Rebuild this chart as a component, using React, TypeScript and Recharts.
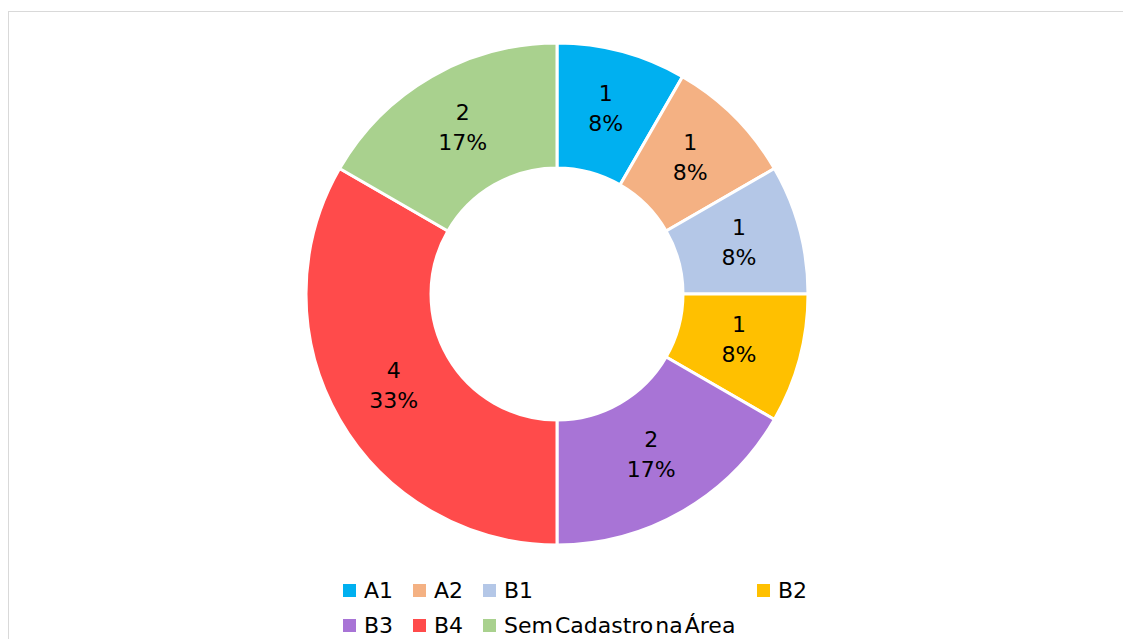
import { PieChart, Pie, Cell } from "recharts";

const CATEGORIES = ["A1", "A2", "B1", "B2", "B3", "B4", "Sem Cadastro na Área"];
const COUNTS = [1, 1, 1, 1, 2, 4, 2];
const COLORS = ["#00B0F0", "#F4B183", "#B4C7E7", "#FFC000", "#A874D6", "#FF4B4B", "#A9D18E"];

// legend grid order, as Excel lays it out
const LEGEND_ORDER = [0, 1, 2, 3, 4, 5, 6];

const RADIAN = Math.PI / 180;
const FONT = "'DejaVu Sans', sans-serif";

const data = CATEGORIES.map((name, i) => ({ name, value: COUNTS[i] }));

function renderLabel(props: any) {
  const { cx, cy, midAngle, innerRadius, outerRadius, value, percent } = props;
  const r = (innerRadius + outerRadius) / 2;
  const x = cx + r * Math.cos(-midAngle * RADIAN);
  const y = cy + r * Math.sin(-midAngle * RADIAN) - 3;
  return (
    <text x={x} y={y} textAnchor="middle" fill="#000" fontSize={22} fontFamily={FONT}>
      <tspan x={x} dy={-15} dominantBaseline="central">
        {value}
      </tspan>
      <tspan x={x} dy={30} dominantBaseline="central">
        {Math.round(percent * 100)}%
      </tspan>
    </text>
  );
}

export default function App() {
  return (
    <div style={{ paddingTop: 3 }}>
      <div
        style={{
          position: "relative",
          width: 1130,
          height: 630,
          borderTop: "1px solid #d9d9d9",
          borderLeft: "1px solid #d9d9d9",
          background: "#fff",
        }}
      >
        <PieChart width={1122} height={627}>
          <Pie
            data={data}
            dataKey="value"
            nameKey="name"
            cx={543}
            cy={277}
            innerRadius={126}
            outerRadius={251}
            startAngle={90}
            endAngle={-270}
            stroke="#fff"
            strokeWidth={3}
            label={renderLabel}
            labelLine={false}
            isAnimationActive={false}
          >
            {data.map((d, i) => (
              <Cell key={d.name} fill={COLORS[i]} />
            ))}
          </Pie>
        </PieChart>
        <div
          style={{
            position: "absolute",
            left: 334,
            top: 561,
            display: "grid",
            gridTemplateColumns: "70px 70px 274px auto",
            fontFamily: FONT,
            fontSize: 22,
            wordSpacing: -5,
            color: "#000",
          }}
        >
          {LEGEND_ORDER.map((i) => (
            <div
              key={CATEGORIES[i]}
              style={{ display: "flex", alignItems: "center", height: 35, whiteSpace: "nowrap" }}
            >
              <span
                style={{ width: 13, height: 13, background: COLORS[i], marginRight: 8, flex: "none" }}
              />
              <span>{CATEGORIES[i]}</span>
            </div>
          ))}
        </div>
      </div>
    </div>
  );
}
